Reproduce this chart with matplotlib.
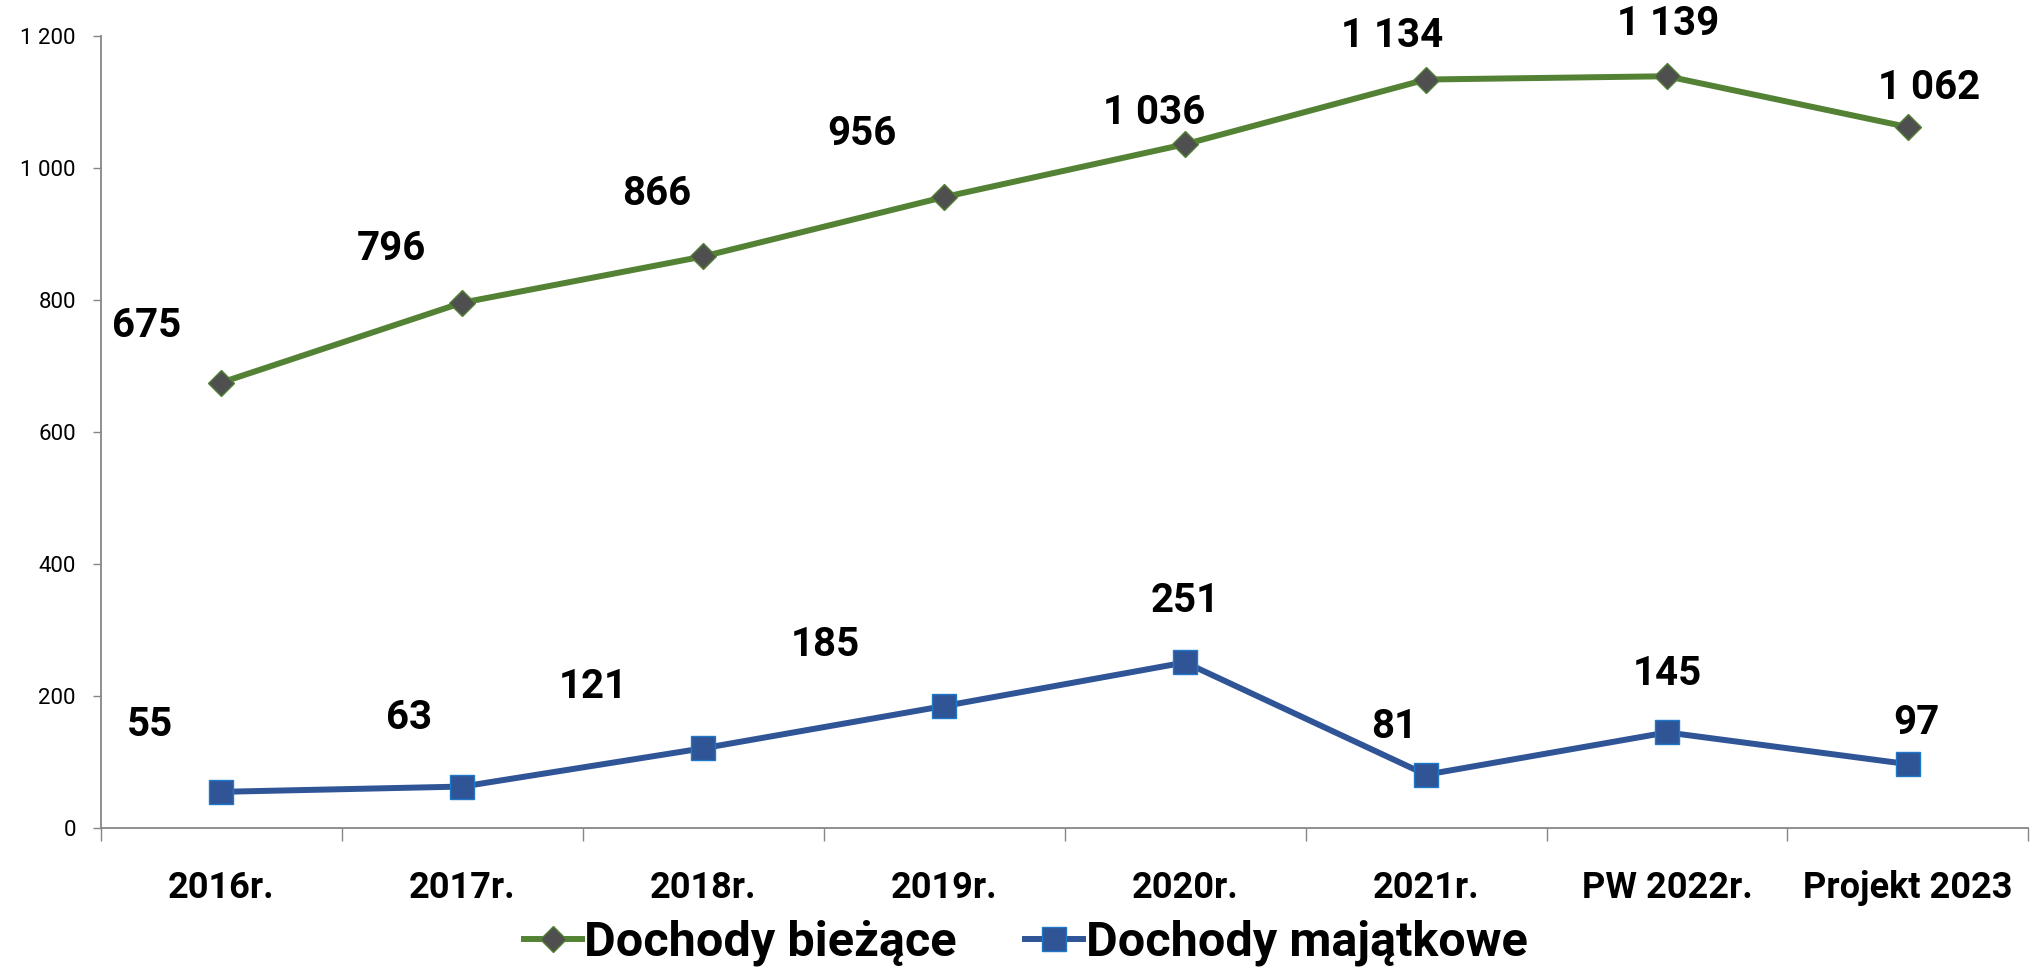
import matplotlib.pyplot as plt
import numpy as np
from matplotlib.ticker import FuncFormatter

plt.rcParams['font.family'] = ['Roboto', 'DejaVu Sans']

categories = ['2016r.', '2017r.', '2018r.', '2019r.', '2020r.', '2021r.', 'PW 2022r.', 'Projekt 2023']
biezace = [675, 796, 866, 956, 1036, 1134, 1139, 1062]
majatkowe = [55, 63, 121, 185, 251, 81, 145, 97]

# label offsets in pixels (dx, dy) relative to each point
off_biezace = [(-75, 57), (-71, 54), (-47, 62), (-82, 63), (-31, 31), (-34, 44), (1, 52), (21, 39)]
off_majatkowe = [(-71, 67), (-53, 69), (-110, 61), (-119, 61), (0, 61), (-32, 48), (0, 58), (8, 41)]

green = '#538235'
blue = '#2F5597'
axis_col = '#868686'


def fmt(v, pos=None):
    return f'{v:,.0f}'.replace(',', ' ')


fig = plt.figure(figsize=(20.31, 9.72), dpi=100)
ax = fig.add_axes([0.0497, 0.148, 0.949, 0.815])
x = np.arange(len(categories))

ax.plot(x, biezace, color=green, lw=4.3, marker='D', ms=13,
        markerfacecolor='#4F4F4F', markeredgecolor=green, markeredgewidth=1,
        label='Dochody bieżące', zorder=3)
ax.plot(x, majatkowe, color=blue, lw=4.3, marker='s', ms=17,
        markerfacecolor=blue, markeredgecolor='#1F78C8', markeredgewidth=1,
        label='Dochody majątkowe', zorder=3)

for xi, v, (dx, dy) in zip(x, biezace, off_biezace):
    ax.annotate(fmt(v), (xi, v), xytext=(dx, dy), textcoords='offset pixels',
                ha='center', va='center', fontsize=29, fontweight='bold')
for xi, v, (dx, dy) in zip(x, majatkowe, off_majatkowe):
    ax.annotate(fmt(v), (xi, v), xytext=(dx, dy), textcoords='offset pixels',
                ha='center', va='center', fontsize=29, fontweight='bold')

ax.set_xlim(-0.5, len(categories) - 0.5)
ax.set_ylim(0, 1200)
ax.set_yticks(np.arange(0, 1201, 200))
ax.yaxis.set_major_formatter(FuncFormatter(fmt))
ax.set_xticks(x)
ax.set_xticklabels(categories, fontsize=26, fontweight='bold')
ax.set_xticks(np.arange(-0.5, len(categories)), minor=True)
ax.tick_params(axis='x', which='major', length=0, pad=30)
ax.tick_params(axis='x', which='minor', length=9.5, width=1, color=axis_col)
ax.tick_params(axis='y', length=6, width=1, color=axis_col, labelsize=16, pad=12)

for s in ['top', 'right']:
    ax.spines[s].set_visible(False)
for s in ['left', 'bottom']:
    ax.spines[s].set_color(axis_col)
    ax.spines[s].set_linewidth(1.3)

fig.legend(loc='center', bbox_to_anchor=(0.505, 0.03), ncol=2, frameon=False,
           handlelength=1.2, handletextpad=0.05, columnspacing=1.4,
           prop={'size': 35, 'weight': 'bold'})

fig.savefig('out.png', dpi=100)
